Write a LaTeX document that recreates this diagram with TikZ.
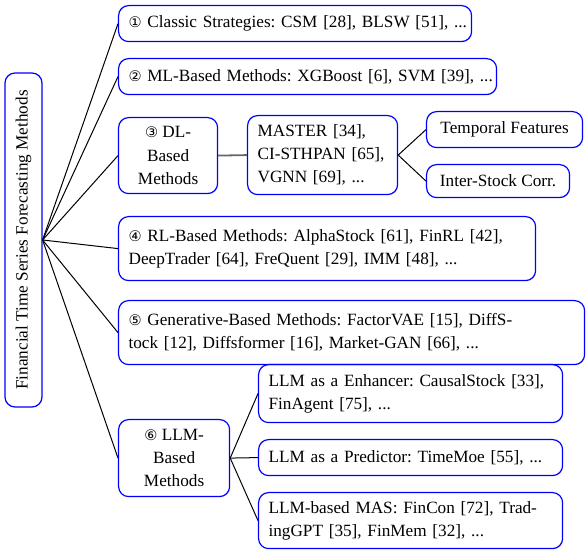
\documentclass[tikz,border=0pt]{standalone}
\usepackage{fontspec}
\setmainfont{Liberation Serif}
\newfontfamily\symfont{DejaVu Sans}[Scale=0.85]
\newcommand\cnum[1]{{\symfont #1}}
\frenchspacing
\begin{document}
\begin{tikzpicture}[x=0.5pt,y=-0.5pt,
  box/.style={draw=blue, rounded corners=5pt, line width=0.6pt, inner xsep=5pt, inner ysep=1pt,
    font=\fontsize{8.6}{11.6}\selectfont},
  lbox/.style={box, align=left, anchor=north west},
  cbox/.style={box, align=center, anchor=north west},
  conn/.style={draw=black, line width=0.5pt},
  thick conn/.style={draw=black!60, line width=0.9pt}]
\useasboundingbox (0,0) rectangle (586,550);
% root
\node[box, rotate=90, minimum width=167pt, minimum height=18.5pt, inner sep=0pt, align=center]
  (root) at (23.5,240) {Financial Time Series Forecasting Methods};
% level 1
\node[lbox, minimum width=176.5pt, minimum height=18pt, text width=166.5pt] (c1) at (118,5)
  {\mbox{\cnum{①} Classic Strategies: CSM [28], BLSW [51], ...}};
\node[lbox, minimum width=189pt, minimum height=18pt, text width=179pt] (c2) at (118,58)
  {\mbox{\cnum{②} ML-Based Methods: XGBoost [6], SVM [39], ...}};
\node[cbox, minimum width=49.5pt, minimum height=38pt] (c3) at (118,117)
  {\cnum{③} DL-\\Based\\Methods};
\node[lbox, minimum width=208.5pt, minimum height=32pt, text width=198.5pt] (c4) at (118,216)
  {\mbox{\cnum{④} RL-Based Methods: AlphaStock [61], FinRL [42],}\\\mbox{DeepTrader [64], FreQuent [29], IMM [48], ...}};
\node[lbox, minimum width=233pt, minimum height=32pt, text width=223pt] (c5) at (118,300)
  {\mbox{\cnum{⑤} Generative-Based Methods: FactorVAE [15], DiffS-}\\\mbox{tock [12], Diffsformer [16], Market-GAN [66], ...}};
\node[cbox, minimum width=55.5pt, minimum height=38.5pt] (c6) at (118,419)
  {\cnum{⑥} LLM-\\Based\\Methods};
% level 2
\node[lbox, minimum width=75pt, minimum height=39.5pt, text width=65pt] (dl) at (247,115)
  {\mbox{MASTER [34],}\\\mbox{CI-STHPAN [65],}\\\mbox{VGNN [69], ...}};
\node[cbox, minimum width=78pt, minimum height=18pt] (tf) at (426,111) {Temporal Features};
\node[cbox, minimum width=71.5pt, minimum height=16.5pt] (isc) at (426,164) {Inter-Stock Corr.};
\node[lbox, minimum width=152pt, minimum height=29pt, text width=142pt] (enh) at (258,364)
  {\mbox{LLM as a Enhancer: CausalStock [33],}\\\mbox{FinAgent [75], ...}};
\node[lbox, minimum width=152pt, minimum height=18pt, text width=142pt] (pred) at (258,439)
  {\mbox{LLM as a Predictor: TimeMoe [55], ...}};
\node[lbox, minimum width=152pt, minimum height=28pt, text width=142pt] (mas) at (258,492)
  {\mbox{LLM-based MAS: FinCon [72], Trad-}\\\mbox{ingGPT [35], FinMem [32], ...}};
% connectors
\foreach \t in {c1,c2,c3,c4,c5,c6}
  \draw[conn] (root.south) -- (\t.west);
\draw[thick conn] (c3.east) -- (dl.west);
\draw[conn] (dl.east) -- (tf.west);
\draw[conn] (dl.east) -- (isc.west);
\draw[conn] (c6.east) -- (enh.west);
\draw[conn] (c6.east) -- (pred.west);
\draw[conn] (c6.east) -- (mas.west);
\end{tikzpicture}
\end{document}
